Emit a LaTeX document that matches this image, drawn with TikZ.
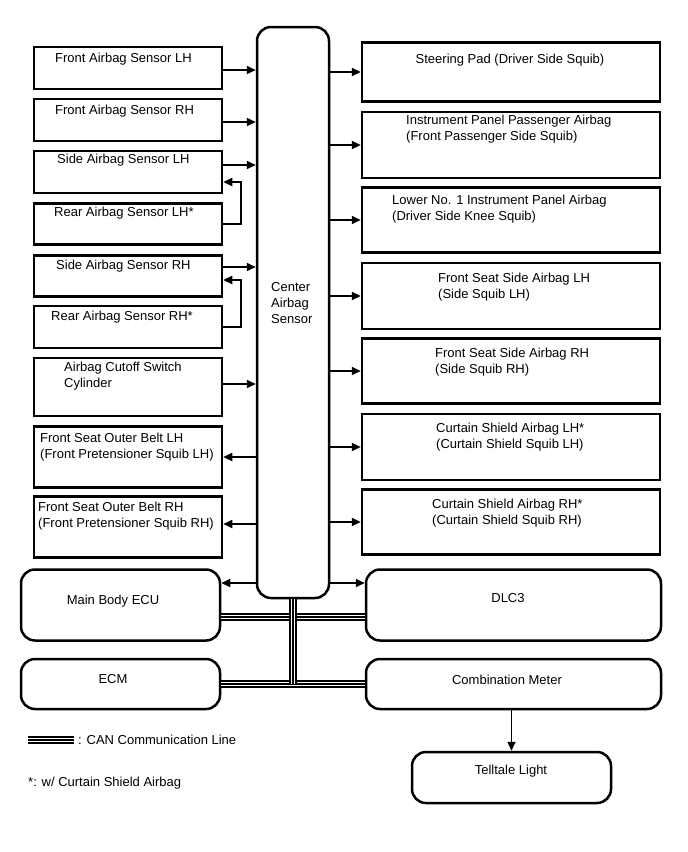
\documentclass[tikz,border=0pt]{standalone}
\usepackage{fontspec}
\setmainfont{Liberation Sans}
\usetikzlibrary{arrows.meta}

\tikzset{
  box/.style={draw, line width=2.5pt, inner sep=0pt, minimum width=#1},
  box/.default=188pt,
  rbox/.style={box=#1, rounded corners=14pt},
  txt/.style={inner sep=0pt, align=left, font=\fontsize{13}{16}\selectfont},
  arr/.style={-{Triangle[length=9pt,width=8pt]}, line width=1.7pt},
  can/.style={line width=2.4pt, preaction={draw, line width=8.8pt}, preaction={draw=white, line width=4.6pt}}
}

\begin{document}
\begin{tikzpicture}[x=1pt,y=-1pt]

\useasboundingbox (0,0) rectangle (688,852);

\node[box=72pt, minimum height=571pt, rounded corners=14pt] (cas) at (293,312.5) {};
\node[txt, anchor=west] (castxt) at (271,303) {Center\\Airbag\\Sensor};

\node[box, minimum height=42pt] (fasl) at (128,68) {};
\node[txt, anchor=west] (fasltxt) at (55,59) {Front Airbag Sensor LH};

\node[box, minimum height=42pt] (fasr) at (128,120) {};
\node[txt, anchor=west] (fasrtxt) at (55,111) {Front Airbag Sensor RH};

\node[box, minimum height=42pt] (sasl) at (128,172) {};
\node[txt, anchor=west] (sasltxt) at (57,160) {Side Airbag Sensor LH};

\node[box, minimum height=41pt] (rasl) at (128,224) {};
\node[txt, anchor=west] (rasltxt) at (54,213) {Rear Airbag Sensor LH*};

\node[box, minimum height=41pt] (sasr) at (128,276) {};
\node[txt, anchor=west] (sasrtxt) at (56,266) {Side Airbag Sensor RH};

\node[box, minimum height=42pt] (rasr) at (128,327) {};
\node[txt, anchor=west] (rasrtxt) at (51,317) {Rear Airbag Sensor RH*};

\node[box, minimum height=58pt] (acsc) at (128,387) {};
\node[txt, anchor=west] (acsctxt) at (64,376) {Airbag Cutoff Switch\\Cylinder};

\node[box, minimum height=61pt] (fsbl) at (128,457) {};
\node[txt, anchor=west] (fsbltxt) at (40,447.5) {Front Seat Outer Belt LH\\(Front Pretensioner Squib LH)};

\node[box, minimum height=61pt] (fsbr) at (128,527) {};
\node[txt, anchor=west] (fsbrtxt) at (38,516.5) {Front Seat Outer Belt RH\\(Front Pretensioner Squib RH)};

\node[box=298pt, minimum height=59pt] (sp) at (511,72) {};
\node[txt] (sptxt) at (510,60) {Steering Pad (Driver Side Squib)};

\node[box=298pt, minimum height=66pt] (ipp) at (511,145) {};
\node[txt, anchor=west] (ipptxt) at (406,129) {Instrument Panel Passenger Airbag\\(Front Passenger Side Squib)};

\node[box=298pt, minimum height=65pt] (lip) at (511,220) {};
\node[txt, anchor=west] (liptxt) at (392,209) {Lower No. 1 Instrument Panel Airbag\\(Driver Side Knee Squib)};

\node[box=298pt, minimum height=66pt] (fssl) at (511,296) {};
\node[txt, anchor=west] (fssltxt) at (438,287.5) {Front Seat Side Airbag LH\\(Side Squib LH)};

\node[box=298pt, minimum height=65pt] (fssr) at (511,371) {};
\node[txt, anchor=west] (fssrtxt) at (435,362) {Front Seat Side Airbag RH\\(Side Squib RH)};

\node[box=298pt, minimum height=66pt] (csl) at (511,447) {};
\node[txt, anchor=west] (csltxt) at (436,437) {Curtain Shield Airbag LH*\\(Curtain Shield Squib LH)};

\node[box=298pt, minimum height=65pt] (csr) at (511,522) {};
\node[txt, anchor=west] (csrtxt) at (432,513) {Curtain Shield Airbag RH*\\(Curtain Shield Squib RH)};

\node[rbox=199pt, minimum height=71pt] (mbe) at (120.5,605) {};
\node[txt] (mbetxt) at (113,601) {Main Body ECU};

\node[rbox=295pt, minimum height=71pt] (dlc) at (513.5,605) {};
\node[txt] (dlctxt) at (508,598) {DLC3};

\node[rbox=199pt, minimum height=50pt] (ecm) at (120.5,684) {};
\node[txt] (ecmtxt) at (113,679) {ECM};

\node[rbox=295pt, minimum height=50pt] (cm) at (513.5,684) {};
\node[txt] (cmtxt) at (507,680) {Combination Meter};

\node[rbox=199pt, minimum height=51pt] (tl) at (511.5,777.5) {};
\node[txt] (tltxt) at (511,771) {Telltale Light};

\draw[arr] ([yshift=-2pt]fasl.east) -- ([yshift=-2pt]fasl.east -| cas.west);
\draw[arr] ([yshift=-2pt]fasr.east) -- ([yshift=-2pt]fasr.east -| cas.west);
\draw[arr] ([yshift=7pt]sasl.east) -- ([yshift=7pt]sasl.east -| cas.west);
\draw[arr] ([yshift=9pt]sasr.east) -- ([yshift=9pt]sasr.east -| cas.west);
\draw[arr] ([yshift=3pt]acsc.east) -- ([yshift=3pt]acsc.east -| cas.west);
\draw[arr] (rasl.east) -- ++(18,0) |- ([yshift=-10pt]sasl.east);
\draw[arr] (rasr.east) -- ++(18,0) |- ([yshift=-4pt]sasr.east);
\draw[arr] (fsbl.east -| cas.west) -- (fsbl.east);
\draw[arr] ([yshift=3pt]fsbr.east -| cas.west) -- ([yshift=3pt]fsbr.east);

\foreach \n in {sp,ipp,lip,fssl,fssr,csl,csr}
  \draw[arr] (\n.west -| cas.east) -- (\n.west);

\draw[arr] ([yshift=22pt]mbe.east -| cas.west) -- ([yshift=22pt]mbe.east);
\draw[arr] ([yshift=22pt]dlc.west -| cas.east) -- ([yshift=22pt]dlc.west);
\draw[arr] (cm.south -| tl.north) -- (tl.north);

\draw[can] ([yshift=-12pt]mbe.east) -- ([yshift=-12pt]dlc.west);
\draw[can] (ecm.east) -- (cm.west);
\draw[can] (cas.south) -- (cas.south |- ecm.east);

\coordinate (leg1) at (28,740);
\coordinate (leg2) at (74,740);
\draw[can] (leg1) -- (leg2);
\node[txt, anchor=west] (legtxt) at (78,740) {: CAN Communication Line};
\node[txt, anchor=west] (notetxt) at (28,783) {*: w/ Curtain Shield Airbag};

\end{tikzpicture}
\end{document}
